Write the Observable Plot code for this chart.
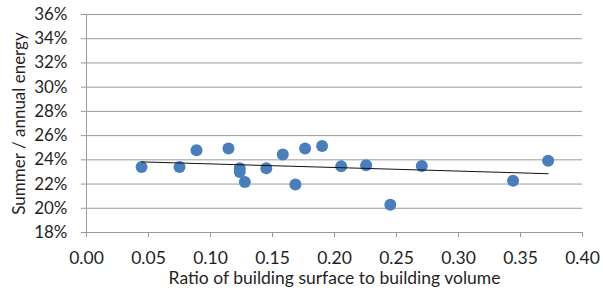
<!DOCTYPE html>
<html>
<head>
<meta charset="utf-8">
<script src="https://cdn.jsdelivr.net/npm/d3@7"></script>
<script src="https://cdn.jsdelivr.net/npm/@observablehq/plot@0.6"></script>
<style>
  html, body { margin: 0; padding: 0; background: #fff; }
  #chart { width: 603px; height: 293px; }
</style>
</head>
<body>
<div id="chart"></div>
<script>
// Ratio of building surface to building volume
const ratio = [0.0444, 0.075, 0.0887, 0.1145, 0.1236, 0.1236, 0.1277, 0.145, 0.1583, 0.1685, 0.1763, 0.190, 0.2054, 0.2255, 0.245, 0.2704, 0.344, 0.3723];
// Summer / annual energy share
const share = [0.234, 0.234, 0.248, 0.2493, 0.233, 0.230, 0.2217, 0.233, 0.2445, 0.2197, 0.2493, 0.2514, 0.2346, 0.2355, 0.203, 0.2349, 0.2228, 0.2393];
const yTicks = [0.18, 0.20, 0.22, 0.24, 0.26, 0.28, 0.30, 0.32, 0.34, 0.36];
const xTicks = [0.00, 0.05, 0.10, 0.15, 0.20, 0.25, 0.30, 0.35, 0.40];
const xLabel = "Ratio of building surface to building volume";
const yLabel = "Summer / annual energy";

const data = ratio.map((r, i) => ({ratio: r, share: share[i]}));
const font = "Lato, 'Open Sans', sans-serif";
const ink = "#1f1f1f";
const grid = "#9a9a9a";

const chart = Plot.plot({
  width: 603,
  height: 293,
  marginLeft: 86,
  marginRight: 21,
  marginTop: 14,
  marginBottom: 61,
  style: {fontFamily: font, fontSize: "17px", color: ink, background: "#fff"},
  x: {domain: [0, 0.4]},
  y: {domain: [0.18, 0.36]},
  marks: [
    Plot.ruleY(yTicks, {stroke: grid, strokeWidth: 1}),
    Plot.ruleX([0], {stroke: grid, strokeWidth: 1}),
    Plot.axisY({
      ticks: yTicks, tickFormat: d3.format(".0%"), tickSize: 5, tickPadding: 14,
      stroke: grid, label: yLabel, labelAnchor: "center", labelArrow: "none",
      labelOffset: 74, fontSize: 17
    }),
    Plot.axisX({
      ticks: xTicks, tickFormat: d3.format(".2f"), tickSize: 5, tickPadding: 14,
      stroke: grid, label: xLabel, labelAnchor: "center", labelArrow: "none",
      labelOffset: 51, fontSize: 17.5
    }),
    Plot.dot(data, {x: "ratio", y: "share", r: 6, fill: "#4a7ebb", stroke: "none"}),
    Plot.linearRegressionY(data, {x: "ratio", y: "share", stroke: "#111", strokeWidth: 1, ci: 0})
  ]
});
chart.querySelectorAll("text").forEach(t => t.setAttribute("fill", ink));
document.getElementById("chart").appendChild(chart);
</script>
</body>
</html>
